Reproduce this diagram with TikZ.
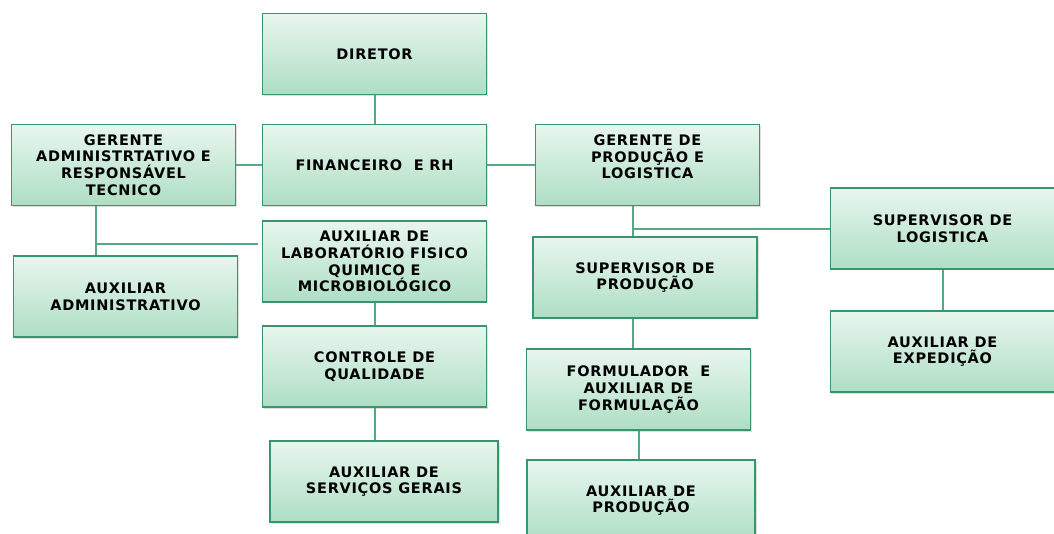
\documentclass[tikz,border=0pt]{standalone}
\usepackage{fontspec}
\setsansfont[LetterSpace=5]{DejaVu Sans}
\usepackage{tikz}
\usetikzlibrary{shadows,calc}

\definecolor{boxline}{RGB}{55,150,110}
\definecolor{boxtop}{RGB}{232,246,238}
\definecolor{boxbot}{RGB}{174,222,196}
\definecolor{wirecol}{RGB}{85,168,130}

\begin{document}
\begin{tikzpicture}[x=1pt, y=-1pt,
  cargo/.style={draw=boxline, line width=1.5pt, top color=boxtop, bottom color=boxbot,
    minimum width=224pt, minimum height=81pt, align=center, inner sep=2pt,
    font=\sffamily\bfseries\fontsize{14.5}{16.7}\selectfont,
    drop shadow={shadow xshift=1.5pt, shadow yshift=-1.5pt, opacity=0.25}},
  wire/.style={draw=wirecol, line width=2pt}]
  \clip (0,0) rectangle (1054,534);

  \node[cargo] (dir)   at (374.5,54)   {DIRETOR};
  \node[cargo] (fin)   at (374.5,165)  {FINANCEIRO\ \ E RH};
  \node[cargo] (gadm)  at (123.5,165)  {GERENTE\\ADMINISTRTATIVO E\\RESPONSÁVEL\\TECNICO};
  \node[cargo] (gprod) at (647.5,165)  {GERENTE DE\\PRODUÇÃO E\\LOGISTICA\\\mbox{}};
  \node[cargo] (aadm)  at (125.5,296.5) {AUXILIAR\\ADMINISTRATIVO};
  \node[cargo] (lab)   at (374.5,261.5) {AUXILIAR DE\\LABORATÓRIO FISICO\\QUIMICO E\\MICROBIOLÓGICO};
  \node[cargo] (cq)    at (374.5,366.5) {CONTROLE DE\\QUALIDADE};
  \node[cargo, minimum width=228pt] (serv) at (384,481.5) {AUXILIAR DE\\SERVIÇOS GERAIS};
  \node[cargo] (sprod) at (645,277.5)  {SUPERVISOR DE\\PRODUÇÃO};
  \node[cargo] (slog)  at (942.5,228.5) {SUPERVISOR DE\\LOGISTICA};
  \node[cargo] (exped) at (942.5,351.5) {AUXILIAR DE\\EXPEDIÇÃO};
  \node[cargo] (form)  at (638.5,389.5) {FORMULADOR\ \ E\\AUXILIAR DE\\FORMULAÇÃO};
  \node[cargo, minimum width=228pt] (aprod) at (641,500.5) {AUXILIAR DE\\PRODUÇÃO};

  \coordinate (adm-bus)  at (96,244);
  \coordinate (prod-bus) at (633,229);

  \path[wire]
  (dir) edge (fin)
  (gadm) edge (fin)
  (fin) edge (gprod)
  (gadm.south -| adm-bus) edge (aadm.north -| adm-bus)
  (adm-bus) edge[shorten >=4pt] (adm-bus -| lab.west)
  (lab) edge (cq)
  (cq.south) edge (cq.south |- serv.north)
  (gprod.south -| prod-bus) edge (sprod.north -| prod-bus)
  (prod-bus) edge (prod-bus -| slog.west)
  (sprod.south -| prod-bus) edge (form.north -| prod-bus)
  (form.south) edge (form.south |- aprod.north)
%  (slog) edge (exped)
  (slog) edge (exped);
\end{tikzpicture}
\end{document}
